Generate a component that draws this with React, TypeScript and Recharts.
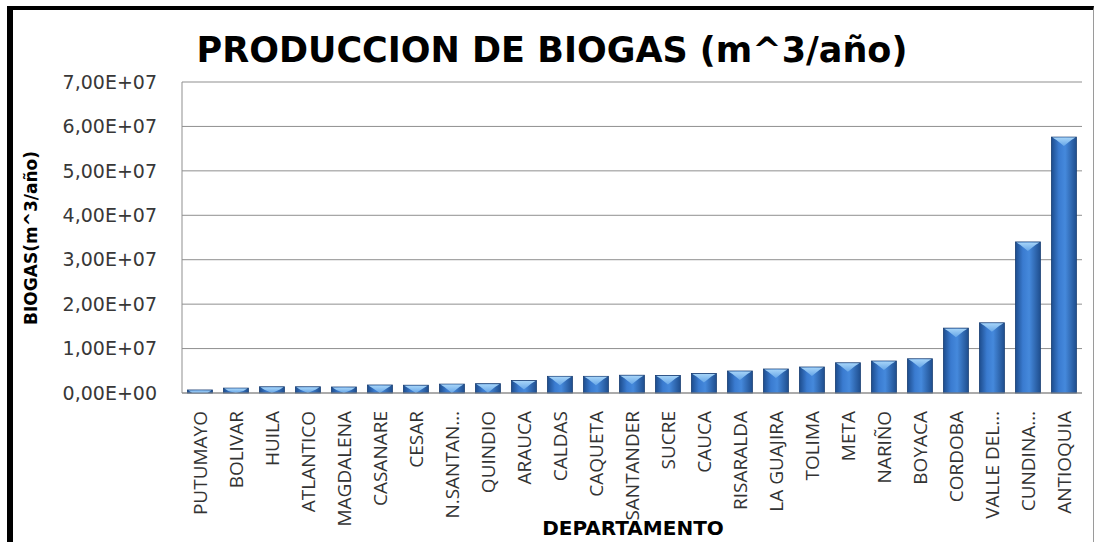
import React from 'react';
import { BarChart, Bar, XAxis, YAxis, CartesianGrid } from 'recharts';

const departamentos = [
  'PUTUMAYO', 'BOLIVAR', 'HUILA', 'ATLANTICO', 'MAGDALENA', 'CASANARE', 'CESAR',
  'N.SANTAN…', 'QUINDIO', 'ARAUCA', 'CALDAS', 'CAQUETA', 'SANTANDER', 'SUCRE',
  'CAUCA', 'RISARALDA', 'LA GUAJIRA', 'TOLIMA', 'META', 'NARIÑO', 'BOYACA',
  'CORDOBA', 'VALLE DEL…', 'CUNDINA…', 'ANTIOQUIA',
];

// biogas production, m^3/año
const biogas = [
  0.68e6, 1.1e6, 1.4e6, 1.4e6, 1.35e6, 1.8e6, 1.75e6,
  2.0e6, 2.1e6, 2.8e6, 3.75e6, 3.75e6, 4.0e6, 3.95e6,
  4.4e6, 4.95e6, 5.4e6, 5.85e6, 6.8e6, 7.2e6, 7.7e6,
  14.6e6, 15.8e6, 34.0e6, 57.6e6,
];

const yTicks = [0, 1e7, 2e7, 3e7, 4e7, 5e7, 6e7, 7e7];

const data = departamentos.map((d, i) => ({ name: d, biogas: biogas[i] }));

const fmtSci = (v: number) => {
  if (v === 0) return '0,00E+00';
  const exp = Math.floor(Math.log10(v));
  const mant = (v / Math.pow(10, exp)).toFixed(2).replace('.', ',');
  return `${mant}E+${String(exp).padStart(2, '0')}`;
};

const YTick = (props: any) => {
  const { x, y, payload } = props;
  return (
    <text x={x} y={y} dy="0.35em" textAnchor="end" fill="#383838"
      fontFamily="DejaVu Sans" fontSize={19}>
      {fmtSci(payload.value)}
    </text>
  );
};

const XTick = (props: any) => {
  const { x, y, payload } = props;
  return (
    <text transform={`translate(${x},${y + 18}) rotate(-90)`} textAnchor="end" dy="0.36em"
      fill="#333" fontFamily="Open Sans" fontSize={19}>
      {payload.value}
    </text>
  );
};

// bevelled 3D-ish bar like the old Excel style
const BevelBar = (props: any) => {
  const { x, y, width, height } = props;
  if (!height || height <= 0) return null;
  const cap = Math.min(9, height);
  const w = width;
  return (
    <g>
      <rect x={x} y={y} width={w} height={height} fill="url(#barGrad)" stroke="#1a3f73" strokeWidth={0.8} />
      <polygon
        points={`${x + 1},${y + 0.5} ${x + w - 1},${y + 0.5} ${x + w - 5},${y + Math.min(3, cap)} ${x + w / 2},${y + cap} ${x + 5},${y + Math.min(3, cap)}`}
        fill="url(#capGrad)"
      />
    </g>
  );
};

export default function App() {
  return (
    <div style={{ position: 'relative', width: 1098, height: 542, background: '#fff', overflow: 'hidden' }}>
      <style>{'body{margin:0}'}</style>
      <div style={{
        position: 'absolute', left: 7, top: 6, width: 1080, height: 560,
        borderLeft: '6px solid #000', borderTop: '4px solid #000', borderRight: '1px solid #9a9a9a',
      }} />
      <div style={{ position: 'absolute', left: 0, top: 0 }}>
        <BarChart width={1098} height={542} data={data}
          margin={{ top: 82, right: 16, bottom: 9, left: 62 }} barCategoryGap="15%">
          <defs>
            <linearGradient id="barGrad" x1="0" y1="0" x2="1" y2="0">
              <stop offset="0%" stopColor="#1d4c8c" />
              <stop offset="30%" stopColor="#3a7bd0" />
              <stop offset="55%" stopColor="#4589dc" />
              <stop offset="100%" stopColor="#1f4e8e" />
            </linearGradient>
            <linearGradient id="capGrad" x1="0" y1="0" x2="0" y2="1">
              <stop offset="0%" stopColor="#a6d4f8" />
              <stop offset="100%" stopColor="#66a6e8" />
            </linearGradient>
          </defs>
          <CartesianGrid vertical={false} stroke="#8f8f8f" strokeWidth={1} />
          <XAxis dataKey="name" interval={0} height={140} tickSize={0} tickMargin={0}
            stroke="#8f8f8f" tick={<XTick />} />
          <YAxis domain={[0, 7e7]} ticks={yTicks} width={120} tickSize={0} tickMargin={25}
            stroke="#8f8f8f" tick={<YTick />} />
          <Bar dataKey="biogas" isAnimationActive={false} shape={<BevelBar />} />
        </BarChart>
      </div>
      <svg width={1098} height={542} style={{ position: 'absolute', left: 0, top: 0, pointerEvents: 'none' }}>
        <text x={552} y={62} textAnchor="middle" fontFamily="DejaVu Sans" fontWeight="bold"
          fontSize={35} fill="#000">
          PRODUCCION DE BIOGAS (m^3/año)
        </text>
        <text transform="translate(37,238) rotate(-90)" textAnchor="middle" fontFamily="DejaVu Sans"
          fontWeight="bold" fontSize={17} fill="#000">
          BIOGAS(m^3/año)
        </text>
        <text x={633} y={535} textAnchor="middle" fontFamily="DejaVu Sans" fontWeight="bold"
          fontSize={20} fill="#000">
          DEPARTAMENTO
        </text>
      </svg>
    </div>
  );
}
